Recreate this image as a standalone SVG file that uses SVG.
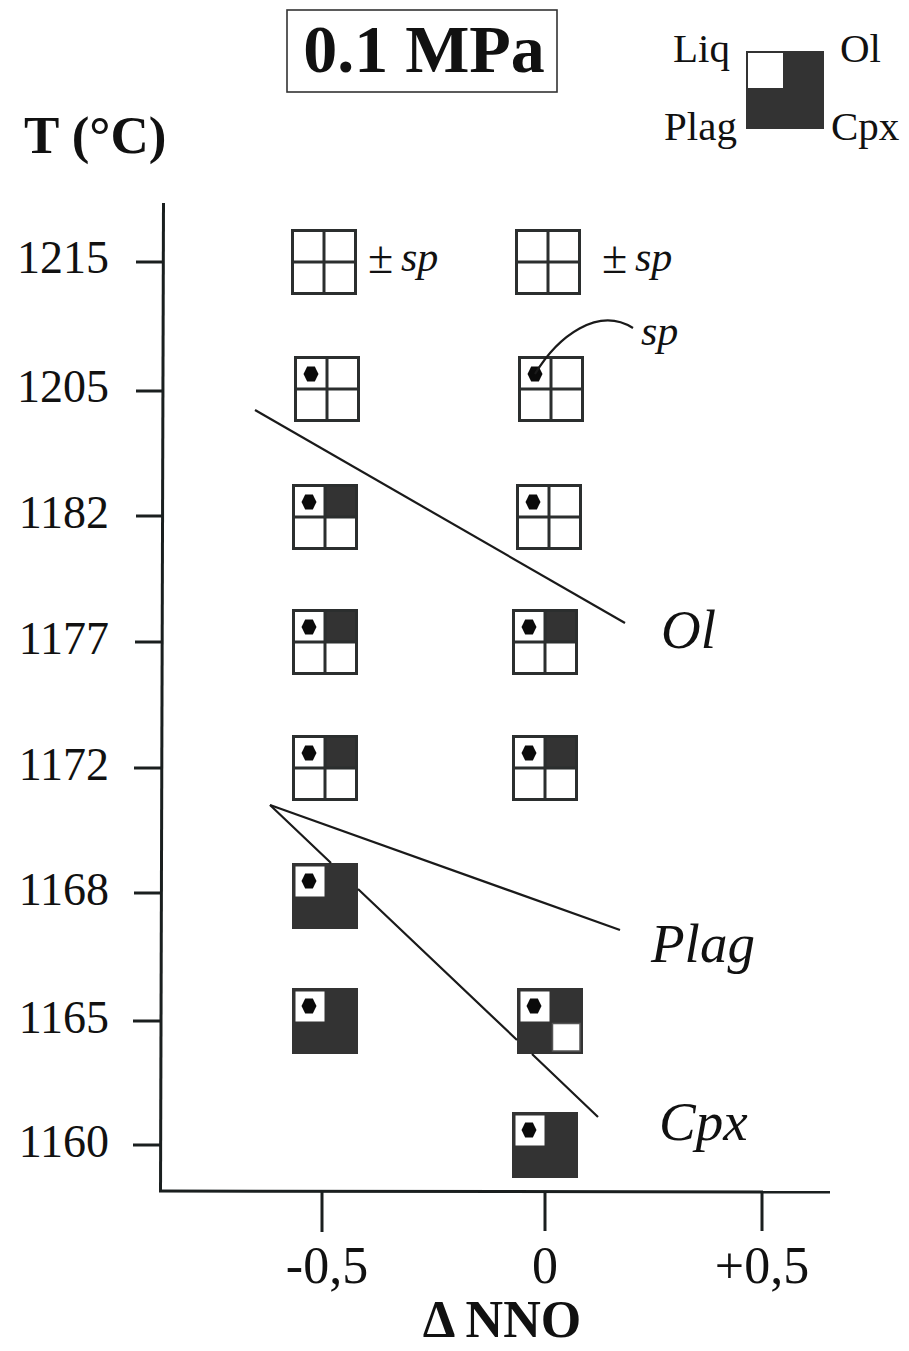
<svg xmlns="http://www.w3.org/2000/svg" xmlns:xlink="http://www.w3.org/1999/xlink" width="909" height="1351" viewBox="0 0 909 1351">
<style>
  .t { font-family: "Liberation Serif", "Times New Roman", serif; fill: #111; }
  .b { font-weight: bold; }
  .i { font-style: italic; }
  .ax { stroke: #1a1f1f; stroke-width: 3; fill: none; }
  .ln { stroke: #1a1a1a; stroke-width: 2.2; fill: none; }
  .grid { stroke: #2b2e2e; stroke-width: 3; fill: none; }
  .dk { fill: #333333; }
  .wh { fill: #ffffff; }
</style>
<defs>
  <polygon id="hex" points="-7.5,0 -3.8,-7.5 3.8,-7.5 7.5,0 3.8,7.5 -3.8,7.5" fill="#0a0a0a"/>
  <g id="grid">
    <rect x="1.5" y="1.5" width="63" height="63" class="grid"/>
    <line x1="33" y1="0" x2="33" y2="66" class="grid"/>
    <line x1="0" y1="33" x2="66" y2="33" class="grid"/>
  </g>
  <g id="b-empty">
    <rect x="0" y="0" width="66" height="66" class="wh"/>
    <use xlink:href="#grid"/>
  </g>
  <g id="b-liq">
    <rect x="0" y="0" width="66" height="66" class="wh"/>
    <use xlink:href="#grid"/>
    <use xlink:href="#hex" x="17" y="18"/>
  </g>
  <g id="b-liq-ol">
    <rect x="0" y="0" width="66" height="66" class="wh"/>
    <rect x="33" y="0" width="33" height="33" class="dk"/>
    <use xlink:href="#grid"/>
    <use xlink:href="#hex" x="17" y="18"/>
  </g>
  <g id="b-all">
    <rect x="0" y="0" width="66" height="66" class="dk"/>
    <rect x="3.5" y="3.5" width="29" height="30" class="wh"/>
    <use xlink:href="#hex" x="17" y="18"/>
  </g>
  <g id="b-liq-ol-plag">
    <rect x="0" y="0" width="66" height="66" class="dk"/>
    <rect x="3.5" y="3.5" width="29" height="30" class="wh"/>
    <rect x="35.5" y="35.5" width="27.5" height="27.5" fill="#fff" stroke="#555" stroke-width="1.5"/>
    <use xlink:href="#hex" x="17" y="18"/>
  </g>
</defs>

<rect x="0" y="0" width="909" height="1351" fill="#ffffff"/>

<!-- Title -->
<g id="title">
  <rect x="287" y="10" width="270" height="82" fill="#fff" stroke="#333" stroke-width="1.6"/>
  <text x="424" y="72" class="t b" font-size="68" text-anchor="middle">0.1 MPa</text>
</g>

<!-- Legend -->
<g id="legend">
  <rect x="746" y="51" width="78" height="78" class="dk"/>
  <rect x="748" y="53" width="35" height="35" class="wh"/>
  <text x="673" y="62" class="t" font-size="41">Liq</text>
  <text x="840" y="62" class="t" font-size="41">Ol</text>
  <text x="664" y="140" class="t" font-size="41">Plag</text>
  <text x="831" y="140" class="t" font-size="41">Cpx</text>
</g>

<!-- Axes -->
<g id="axes">
  <line x1="163.5" y1="203" x2="160.5" y2="1192" class="ax"/>
  <line x1="159" y1="1191" x2="830" y2="1192" class="ax"/>
  <line x1="136" y1="262" x2="163" y2="262" class="ax"/>
  <line x1="136" y1="391" x2="163" y2="391" class="ax"/>
  <line x1="136" y1="516" x2="162" y2="516" class="ax"/>
  <line x1="135" y1="642" x2="162" y2="642" class="ax"/>
  <line x1="134" y1="768" x2="162" y2="768" class="ax"/>
  <line x1="134" y1="893" x2="161" y2="893" class="ax"/>
  <line x1="133" y1="1021" x2="161" y2="1021" class="ax"/>
  <line x1="133" y1="1145" x2="161" y2="1145" class="ax"/>
  <line x1="322" y1="1191" x2="322" y2="1232" class="ax"/>
  <line x1="545" y1="1191" x2="545" y2="1231" class="ax"/>
  <line x1="762" y1="1192" x2="762" y2="1231" class="ax"/>
  <text x="24" y="153" class="t b" font-size="53">T (°C)</text>
  <g class="t" font-size="46" text-anchor="end">
    <text x="109" y="273">1215</text>
    <text x="109" y="402">1205</text>
    <text x="109" y="528">1182</text>
    <text x="109" y="654">1177</text>
    <text x="109" y="780">1172</text>
    <text x="109" y="905">1168</text>
    <text x="109" y="1033">1165</text>
    <text x="109" y="1157">1160</text>
  </g>
  <g class="t" font-size="52" text-anchor="middle">
    <text x="327" y="1283">-0,5</text>
    <text x="545" y="1283">0</text>
    <text x="762" y="1283">+0,5</text>
  </g>
  <text x="502" y="1337" class="t b" font-size="52" text-anchor="middle">Δ NNO</text>
</g>

<!-- Experiment nodes -->
<g id="n1215-l"><use xlink:href="#b-empty" x="291" y="229"/></g>
<g id="n1215-r"><use xlink:href="#b-empty" x="515" y="229"/></g>
<g id="n1205-l"><use xlink:href="#b-liq" x="294" y="356"/></g>
<g id="n1205-r"><use xlink:href="#b-liq" x="518" y="356"/></g>
<g id="n1182-l"><use xlink:href="#b-liq-ol" x="292" y="484"/></g>
<g id="n1182-r"><use xlink:href="#b-liq" x="516" y="484"/></g>
<g id="n1177-l"><use xlink:href="#b-liq-ol" x="292" y="609"/></g>
<g id="n1177-r"><use xlink:href="#b-liq-ol" x="512" y="609"/></g>
<g id="n1172-l"><use xlink:href="#b-liq-ol" x="292" y="735"/></g>
<g id="n1172-r"><use xlink:href="#b-liq-ol" x="512" y="735"/></g>
<g id="n1168-l"><use xlink:href="#b-all" x="292" y="863"/></g>
<g id="n1165-l"><use xlink:href="#b-all" x="292" y="988"/></g>
<g id="n1165-r"><use xlink:href="#b-liq-ol-plag" x="517" y="988"/></g>
<g id="n1160-r"><use xlink:href="#b-all" x="512" y="1112"/></g>

<!-- Connectors / phase boundaries -->
<g id="connectors">
  <line id="ol-line" x1="255" y1="410" x2="625" y2="623" class="ln"/>
  <line id="plag-line" x1="270" y1="805" x2="620" y2="930" class="ln"/>
  <path id="cpx-line" d="M270,805 L331,863 M358,889 L517,1040 M532,1054 L598,1117" class="ln"/>
  <path id="sp-curve" d="M535,374 C558,336 598,306 633,328" class="ln"/>
</g>

<!-- Phase labels -->
<g id="labels">
  <text x="661" y="648" class="t i" font-size="55">Ol</text>
  <text x="651" y="962" class="t i" font-size="55">Plag</text>
  <text x="659" y="1140" class="t i" font-size="55">Cpx</text>
  <text x="368" y="273" class="t" font-size="46">±</text>
  <text x="401" y="271" class="t i" font-size="42">sp</text>
  <text x="602" y="273" class="t" font-size="46">±</text>
  <text x="635" y="271" class="t i" font-size="42">sp</text>
  <text x="641" y="345" class="t i" font-size="42">sp</text>
</g>
</svg>
